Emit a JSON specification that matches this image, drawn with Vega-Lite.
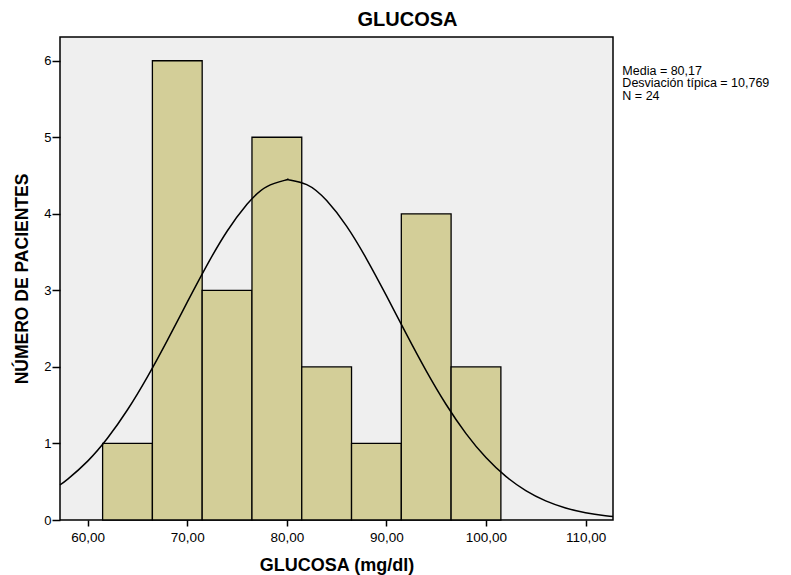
{
  "$schema": "https://vega.github.io/schema/vega-lite/v6.json",
  "autosize": {"type": "none"},
  "padding": {"left": 60, "top": 37, "right": 178, "bottom": 55},
  "width": 553,
  "height": 483,
  "background": "white",
  "config": {
    "font": "Liberation Sans",
    "view": {"fill": "#EFEFEF", "stroke": "black", "strokeWidth": 1.5}
  },
  "title": {
    "text": "GLUCOSA",
    "font": "Liberation Sans",
    "fontSize": 20,
    "fontWeight": "bold",
    "color": "black",
    "anchor": "middle",
    "frame": "group",
    "baseline": "alphabetic",
    "offset": -9,
    "dx": 71
  },
  "datasets": {
    "bins": [
      {"bin_start": 61.5, "bin_end": 66.5, "count": 1},
      {"bin_start": 66.5, "bin_end": 71.5, "count": 6},
      {"bin_start": 71.5, "bin_end": 76.5, "count": 3},
      {"bin_start": 76.5, "bin_end": 81.5, "count": 5},
      {"bin_start": 81.5, "bin_end": 86.5, "count": 2},
      {"bin_start": 86.5, "bin_end": 91.5, "count": 1},
      {"bin_start": 91.5, "bin_end": 96.5, "count": 4},
      {"bin_start": 96.5, "bin_end": 101.5, "count": 2}
    ],
    "curve": [
      {"x": 57.22, "y": 0.4589},
      {"x": 58, "y": 0.5341},
      {"x": 60, "y": 0.7694},
      {"x": 62, "y": 1.0708},
      {"x": 64, "y": 1.4399},
      {"x": 66, "y": 1.8704},
      {"x": 68, "y": 2.3474},
      {"x": 70, "y": 2.8462},
      {"x": 72, "y": 3.3337},
      {"x": 74, "y": 3.7725},
      {"x": 76, "y": 4.1243},
      {"x": 78, "y": 4.3561},
      {"x": 80, "y": 4.4448},
      {"x": 80.17, "y": 4.4454},
      {"x": 82, "y": 4.3817},
      {"x": 84, "y": 4.1729},
      {"x": 86, "y": 3.8395},
      {"x": 88, "y": 3.4129},
      {"x": 90, "y": 2.9308},
      {"x": 92, "y": 2.4314},
      {"x": 94, "y": 1.9488},
      {"x": 96, "y": 1.509},
      {"x": 98, "y": 1.1289},
      {"x": 100, "y": 0.8159},
      {"x": 102, "y": 0.5696},
      {"x": 104, "y": 0.3842},
      {"x": 106, "y": 0.2504},
      {"x": 108, "y": 0.1576},
      {"x": 110, "y": 0.0959},
      {"x": 112, "y": 0.0564},
      {"x": 112.76, "y": 0.0456}
    ],
    "stats": [
      {"x": 113.7, "y": 5.82, "label": "Media = 80,17"},
      {"x": 113.7, "y": 5.656, "label": "Desviación típica = 10,769"},
      {"x": 113.7, "y": 5.492, "label": "N = 24"}
    ]
  },
  "layer": [
    {
      "data": {"name": "bins"},
      "mark": {"type": "rect", "fill": "#D3CE98", "stroke": "black", "strokeWidth": 1.3},
      "encoding": {
        "x": {
          "field": "bin_start",
          "type": "quantitative",
          "scale": {"domain": [57.22, 112.76], "nice": false, "zero": false},
          "axis": {
            "title": "GLUCOSA (mg/dl)",
            "titleFont": "Liberation Sans",
            "titleFontSize": 18,
            "titleFontWeight": "bold",
            "titleColor": "black",
            "titlePadding": 13,
            "values": [60, 70, 80, 90, 100, 110],
            "labelExpr": "replace(format(datum.value, '.2f'), '.', ',')",
            "labelFont": "Liberation Sans",
            "labelFontSize": 13.5,
            "labelColor": "black",
            "labelPadding": 4,
            "tickSize": 6,
            "tickWidth": 1.5,
            "tickColor": "black",
            "domain": false,
            "grid": false
          }
        },
        "x2": {"field": "bin_end"},
        "y": {
          "field": "count",
          "type": "quantitative",
          "scale": {"domain": [0, 6.31], "nice": false},
          "axis": {
            "title": "NÚMERO DE PACIENTES",
            "titleFont": "Liberation Sans",
            "titleFontSize": 17.5,
            "titleFontWeight": "bold",
            "titleColor": "black",
            "titlePadding": 12,
            "values": [0, 1, 2, 3, 4, 5, 6],
            "format": "d",
            "labelFont": "Liberation Sans",
            "labelFontSize": 13,
            "labelColor": "black",
            "labelPadding": 1,
            "tickSize": 8,
            "tickWidth": 1.5,
            "tickColor": "black",
            "domain": false,
            "grid": false
          }
        },
        "y2": {"datum": 0}
      }
    },
    {
      "data": {"name": "curve"},
      "mark": {"type": "line", "color": "black", "strokeWidth": 1.5, "interpolate": "natural"},
      "encoding": {
        "x": {"field": "x", "type": "quantitative"},
        "y": {"field": "y", "type": "quantitative"}
      }
    },
    {
      "data": {"name": "stats"},
      "mark": {"type": "text", "align": "left", "baseline": "alphabetic", "font": "Liberation Sans", "fontSize": 12.5, "color": "black"},
      "encoding": {
        "x": {"field": "x", "type": "quantitative"},
        "y": {"field": "y", "type": "quantitative"},
        "text": {"field": "label"}
      }
    }
  ]
}
